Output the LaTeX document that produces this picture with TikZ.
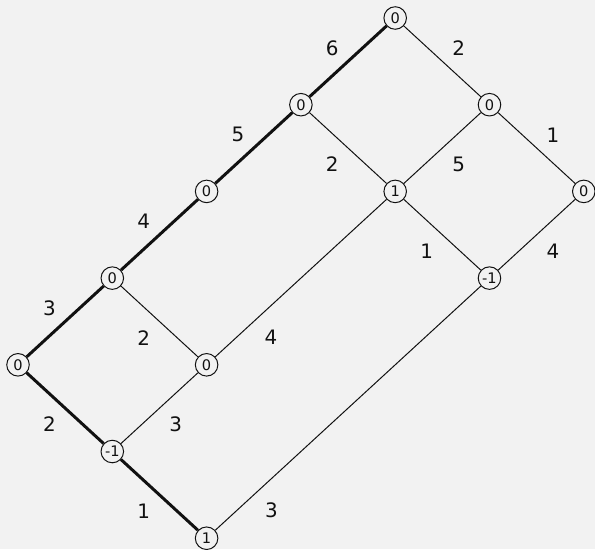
\documentclass[tikz,border=0pt]{standalone}
\usepackage{fontspec}
\setmainfont{DejaVu Sans}
\definecolor{latbg}{HTML}{F2F2F2}
\definecolor{latink}{HTML}{111111}
\tikzset{
  latnode/.style={
    draw=latink, fill=latbg, circle, minimum size=13.6pt, inner sep=0.4pt,
    line width=0.6pt, text=latink, font=\fontsize{8.8}{9}\selectfont},
  latedge/.style={draw=latink, line width=0.6pt},
  latpath/.style={draw=latink, line width=1.8pt},
  lbl/.style={anchor=center, inner sep=0pt, text=latink,
    font=\fontsize{12}{14}\selectfont},
  lbl nw/.style={lbl, xshift=-9.5pt, yshift=8pt},
  lbl ne/.style={lbl, xshift=9.8pt, yshift=8pt},
  lbl sw/.style={lbl, xshift=-9.5pt, yshift=-9.8pt},
  lbl se/.style={lbl, xshift=9.8pt, yshift=-9.8pt},
}

\begin{document}
\begin{tikzpicture}[x=2cm, y=1.839cm]

% Canvas.
\path[use as bounding box, fill=latbg] (-0.191, 0.2076) rectangle (6.119, -6.125);

% Lattice points, named by column and row.
\node[latnode] (v40) at (4, 0) {0};
\node[latnode] (v31) at (3, -1) {0};
\node[latnode] (v51) at (5, -1) {0};
\node[latnode] (v22) at (2, -2) {0};
\node[latnode] (v42) at (4, -2) {1};
\node[latnode] (v62) at (6, -2) {0};
\node[latnode] (v13) at (1, -3) {0};
\node[latnode] (v53) at (5, -3) {-1};
\node[latnode] (v04) at (0, -4) {0};
\node[latnode] (v24) at (2, -4) {0};
\node[latnode] (v15) at (1, -5) {-1};
\node[latnode] (v26) at (2, -6) {1};

% The marked path.
\draw[latpath] (v04) -- node[lbl nw] {3} (v13);
\draw[latpath] (v13) -- node[lbl nw] {4} (v22);
\draw[latpath] (v22) -- node[lbl nw] {5} (v31);
\draw[latpath] (v31) -- node[lbl nw] {6} (v40);
\draw[latpath] (v04) -- node[lbl sw] {2} (v15);
\draw[latpath] (v15) -- node[lbl sw] {1} (v26);

% Remaining edges.
\draw[latedge] (v40) -- node[lbl ne] {2} (v51);
\draw[latedge] (v51) -- node[lbl ne] {1} (v62);
\draw[latedge] (v31) -- node[lbl sw] {2} (v42);
\draw[latedge] (v51) -- node[lbl se] {5} (v42);
\draw[latedge] (v42) -- node[lbl sw] {1} (v53);
\draw[latedge] (v62) -- node[lbl se] {4} (v53);
\draw[latedge] (v13) -- node[lbl sw] {2} (v24);
\draw[latedge] (v24) -- node[lbl se, pos=0.23] {4} (v42);
\draw[latedge] (v24) -- node[lbl se] {3} (v15);
\draw[latedge] (v26) -- node[lbl se, pos=0.15] {3} (v53);

\end{tikzpicture}
\end{document}
